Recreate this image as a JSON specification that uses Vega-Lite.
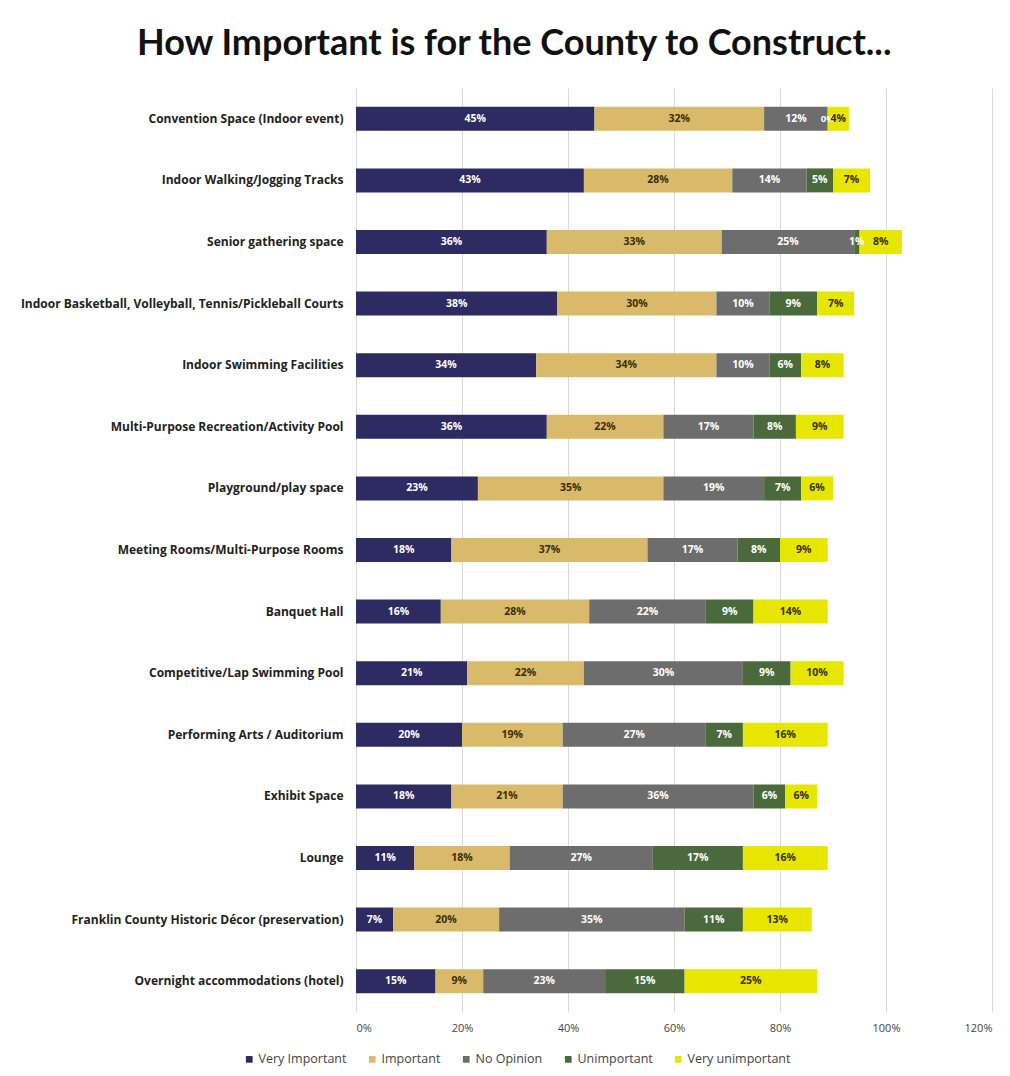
{
  "$schema": "https://vega.github.io/schema/vega-lite/v6.json",
  "autosize": {"type": "none"},
  "width": 636,
  "height": 924,
  "padding": {"left": 356, "top": 88, "right": 18, "bottom": 64},
  "background": "white",
  "title": {
    "text": "How Important is for the County to Construct...",
    "font": "Lato",
    "fontSize": 36,
    "fontWeight": "bold",
    "color": "#111111",
    "anchor": "middle",
    "frame": "bounds",
    "offset": 25,
    "dx": 8
  },
  "data": {
    "values": [
      {"item": "Convention Space (Indoor event)", "cat": "Very Important", "k": 1, "v": 0.45},
      {"item": "Convention Space (Indoor event)", "cat": "Important", "k": 2, "v": 0.32},
      {"item": "Convention Space (Indoor event)", "cat": "No Opinion", "k": 3, "v": 0.12},
      {"item": "Convention Space (Indoor event)", "cat": "Unimportant", "k": 4, "v": 0},
      {"item": "Convention Space (Indoor event)", "cat": "Very unimportant", "k": 5, "v": 0.04},
      {"item": "Indoor Walking/Jogging Tracks", "cat": "Very Important", "k": 1, "v": 0.43},
      {"item": "Indoor Walking/Jogging Tracks", "cat": "Important", "k": 2, "v": 0.28},
      {"item": "Indoor Walking/Jogging Tracks", "cat": "No Opinion", "k": 3, "v": 0.14},
      {"item": "Indoor Walking/Jogging Tracks", "cat": "Unimportant", "k": 4, "v": 0.05},
      {"item": "Indoor Walking/Jogging Tracks", "cat": "Very unimportant", "k": 5, "v": 0.07},
      {"item": "Senior gathering space", "cat": "Very Important", "k": 1, "v": 0.36},
      {"item": "Senior gathering space", "cat": "Important", "k": 2, "v": 0.33},
      {"item": "Senior gathering space", "cat": "No Opinion", "k": 3, "v": 0.25},
      {"item": "Senior gathering space", "cat": "Unimportant", "k": 4, "v": 0.01},
      {"item": "Senior gathering space", "cat": "Very unimportant", "k": 5, "v": 0.08},
      {"item": "Indoor Basketball, Volleyball, Tennis/Pickleball Courts", "cat": "Very Important", "k": 1, "v": 0.38},
      {"item": "Indoor Basketball, Volleyball, Tennis/Pickleball Courts", "cat": "Important", "k": 2, "v": 0.30},
      {"item": "Indoor Basketball, Volleyball, Tennis/Pickleball Courts", "cat": "No Opinion", "k": 3, "v": 0.10},
      {"item": "Indoor Basketball, Volleyball, Tennis/Pickleball Courts", "cat": "Unimportant", "k": 4, "v": 0.09},
      {"item": "Indoor Basketball, Volleyball, Tennis/Pickleball Courts", "cat": "Very unimportant", "k": 5, "v": 0.07},
      {"item": "Indoor Swimming Facilities", "cat": "Very Important", "k": 1, "v": 0.34},
      {"item": "Indoor Swimming Facilities", "cat": "Important", "k": 2, "v": 0.34},
      {"item": "Indoor Swimming Facilities", "cat": "No Opinion", "k": 3, "v": 0.10},
      {"item": "Indoor Swimming Facilities", "cat": "Unimportant", "k": 4, "v": 0.06},
      {"item": "Indoor Swimming Facilities", "cat": "Very unimportant", "k": 5, "v": 0.08},
      {"item": "Multi-Purpose Recreation/Activity Pool", "cat": "Very Important", "k": 1, "v": 0.36},
      {"item": "Multi-Purpose Recreation/Activity Pool", "cat": "Important", "k": 2, "v": 0.22},
      {"item": "Multi-Purpose Recreation/Activity Pool", "cat": "No Opinion", "k": 3, "v": 0.17},
      {"item": "Multi-Purpose Recreation/Activity Pool", "cat": "Unimportant", "k": 4, "v": 0.08},
      {"item": "Multi-Purpose Recreation/Activity Pool", "cat": "Very unimportant", "k": 5, "v": 0.09},
      {"item": "Playground/play space", "cat": "Very Important", "k": 1, "v": 0.23},
      {"item": "Playground/play space", "cat": "Important", "k": 2, "v": 0.35},
      {"item": "Playground/play space", "cat": "No Opinion", "k": 3, "v": 0.19},
      {"item": "Playground/play space", "cat": "Unimportant", "k": 4, "v": 0.07},
      {"item": "Playground/play space", "cat": "Very unimportant", "k": 5, "v": 0.06},
      {"item": "Meeting Rooms/Multi-Purpose Rooms", "cat": "Very Important", "k": 1, "v": 0.18},
      {"item": "Meeting Rooms/Multi-Purpose Rooms", "cat": "Important", "k": 2, "v": 0.37},
      {"item": "Meeting Rooms/Multi-Purpose Rooms", "cat": "No Opinion", "k": 3, "v": 0.17},
      {"item": "Meeting Rooms/Multi-Purpose Rooms", "cat": "Unimportant", "k": 4, "v": 0.08},
      {"item": "Meeting Rooms/Multi-Purpose Rooms", "cat": "Very unimportant", "k": 5, "v": 0.09},
      {"item": "Banquet Hall", "cat": "Very Important", "k": 1, "v": 0.16},
      {"item": "Banquet Hall", "cat": "Important", "k": 2, "v": 0.28},
      {"item": "Banquet Hall", "cat": "No Opinion", "k": 3, "v": 0.22},
      {"item": "Banquet Hall", "cat": "Unimportant", "k": 4, "v": 0.09},
      {"item": "Banquet Hall", "cat": "Very unimportant", "k": 5, "v": 0.14},
      {"item": "Competitive/Lap Swimming Pool", "cat": "Very Important", "k": 1, "v": 0.21},
      {"item": "Competitive/Lap Swimming Pool", "cat": "Important", "k": 2, "v": 0.22},
      {"item": "Competitive/Lap Swimming Pool", "cat": "No Opinion", "k": 3, "v": 0.30},
      {"item": "Competitive/Lap Swimming Pool", "cat": "Unimportant", "k": 4, "v": 0.09},
      {"item": "Competitive/Lap Swimming Pool", "cat": "Very unimportant", "k": 5, "v": 0.10},
      {"item": "Performing Arts / Auditorium", "cat": "Very Important", "k": 1, "v": 0.20},
      {"item": "Performing Arts / Auditorium", "cat": "Important", "k": 2, "v": 0.19},
      {"item": "Performing Arts / Auditorium", "cat": "No Opinion", "k": 3, "v": 0.27},
      {"item": "Performing Arts / Auditorium", "cat": "Unimportant", "k": 4, "v": 0.07},
      {"item": "Performing Arts / Auditorium", "cat": "Very unimportant", "k": 5, "v": 0.16},
      {"item": "Exhibit Space", "cat": "Very Important", "k": 1, "v": 0.18},
      {"item": "Exhibit Space", "cat": "Important", "k": 2, "v": 0.21},
      {"item": "Exhibit Space", "cat": "No Opinion", "k": 3, "v": 0.36},
      {"item": "Exhibit Space", "cat": "Unimportant", "k": 4, "v": 0.06},
      {"item": "Exhibit Space", "cat": "Very unimportant", "k": 5, "v": 0.06},
      {"item": "Lounge", "cat": "Very Important", "k": 1, "v": 0.11},
      {"item": "Lounge", "cat": "Important", "k": 2, "v": 0.18},
      {"item": "Lounge", "cat": "No Opinion", "k": 3, "v": 0.27},
      {"item": "Lounge", "cat": "Unimportant", "k": 4, "v": 0.17},
      {"item": "Lounge", "cat": "Very unimportant", "k": 5, "v": 0.16},
      {"item": "Franklin County Historic Décor (preservation)", "cat": "Very Important", "k": 1, "v": 0.07},
      {"item": "Franklin County Historic Décor (preservation)", "cat": "Important", "k": 2, "v": 0.20},
      {"item": "Franklin County Historic Décor (preservation)", "cat": "No Opinion", "k": 3, "v": 0.35},
      {"item": "Franklin County Historic Décor (preservation)", "cat": "Unimportant", "k": 4, "v": 0.11},
      {"item": "Franklin County Historic Décor (preservation)", "cat": "Very unimportant", "k": 5, "v": 0.13},
      {"item": "Overnight accommodations (hotel)", "cat": "Very Important", "k": 1, "v": 0.15},
      {"item": "Overnight accommodations (hotel)", "cat": "Important", "k": 2, "v": 0.09},
      {"item": "Overnight accommodations (hotel)", "cat": "No Opinion", "k": 3, "v": 0.23},
      {"item": "Overnight accommodations (hotel)", "cat": "Unimportant", "k": 4, "v": 0.15},
      {"item": "Overnight accommodations (hotel)", "cat": "Very unimportant", "k": 5, "v": 0.25}
    ]
  },
  "transform": [
    {"stack": "v", "groupby": ["item"], "sort": [{"field": "k", "order": "ascending"}], "as": ["x0", "x1"]}
  ],
  "encoding": {
    "y": {
      "field": "item",
      "type": "nominal",
      "sort": null,
      "title": null,
      "scale": {"paddingInner": 0, "paddingOuter": 0},
      "axis": {
        "domain": false,
        "ticks": false,
        "labelFont": "Open Sans",
        "labelFontSize": 12,
        "labelFontWeight": "bold",
        "labelColor": "#222222",
        "labelPadding": 13,
        "labelLimit": 400
      }
    }
  },
  "layer": [
    {
      "mark": {"type": "bar", "height": 24},
      "encoding": {
        "x": {
          "field": "x0",
          "type": "quantitative",
          "title": null,
          "scale": {"domain": [0, 1.2], "nice": false},
          "axis": {
            "values": [0, 0.2, 0.4, 0.6, 0.8, 1.0, 1.2],
            "format": ".0%",
            "domain": false,
            "ticks": false,
            "grid": true,
            "gridColor": "#d9d9d9",
            "labelFont": "Open Sans",
            "labelFontSize": 11,
            "labelColor": "#444444",
            "labelPadding": 10
          }
        },
        "x2": {"field": "x1"},
        "color": {
          "field": "cat",
          "type": "nominal",
          "scale": {
            "domain": ["Very Important", "Important", "No Opinion", "Unimportant", "Very unimportant"],
            "range": ["#2e2a62", "#d9ba6b", "#6d6d6d", "#4b6a3c", "#e6e600"]
          },
          "legend": {
            "title": null,
            "orient": "none",
            "direction": "horizontal",
            "legendX": -113,
            "legendY": 965,
            "symbolType": "square",
            "symbolSize": 45,
            "symbolStrokeWidth": 0,
            "labelFont": "Open Sans",
            "labelFontSize": 12.5,
            "labelColor": "#444444",
            "columnPadding": 19,
            "labelOffset": 3
          }
        }
      }
    },
    {
      "transform": [
        {"fold": ["x0", "x1"], "as": ["edge", "pos"]}
      ],
      "mark": {"type": "text", "font": "Open Sans", "fontWeight": "bold", "align": "center", "baseline": "middle"},
      "encoding": {
        "x": {
          "field": "pos",
          "type": "quantitative",
          "aggregate": "mean",
          "title": null,
          "scale": {"domain": [0, 1.2], "nice": false}
        },
        "detail": {"field": "cat", "type": "nominal"},
        "text": {"field": "v", "type": "quantitative", "format": ".0%"},
        "size": {
          "condition": {"test": "datum.v === 0", "value": 9.5},
          "value": 10.5
        },
        "color": {
          "condition": {"test": "datum.cat === 'Important' || datum.cat === 'Very unimportant'", "value": "#3a3000"},
          "value": "#ffffff"
        }
      }
    }
  ],
  "config": {"view": {"stroke": null}}
}
